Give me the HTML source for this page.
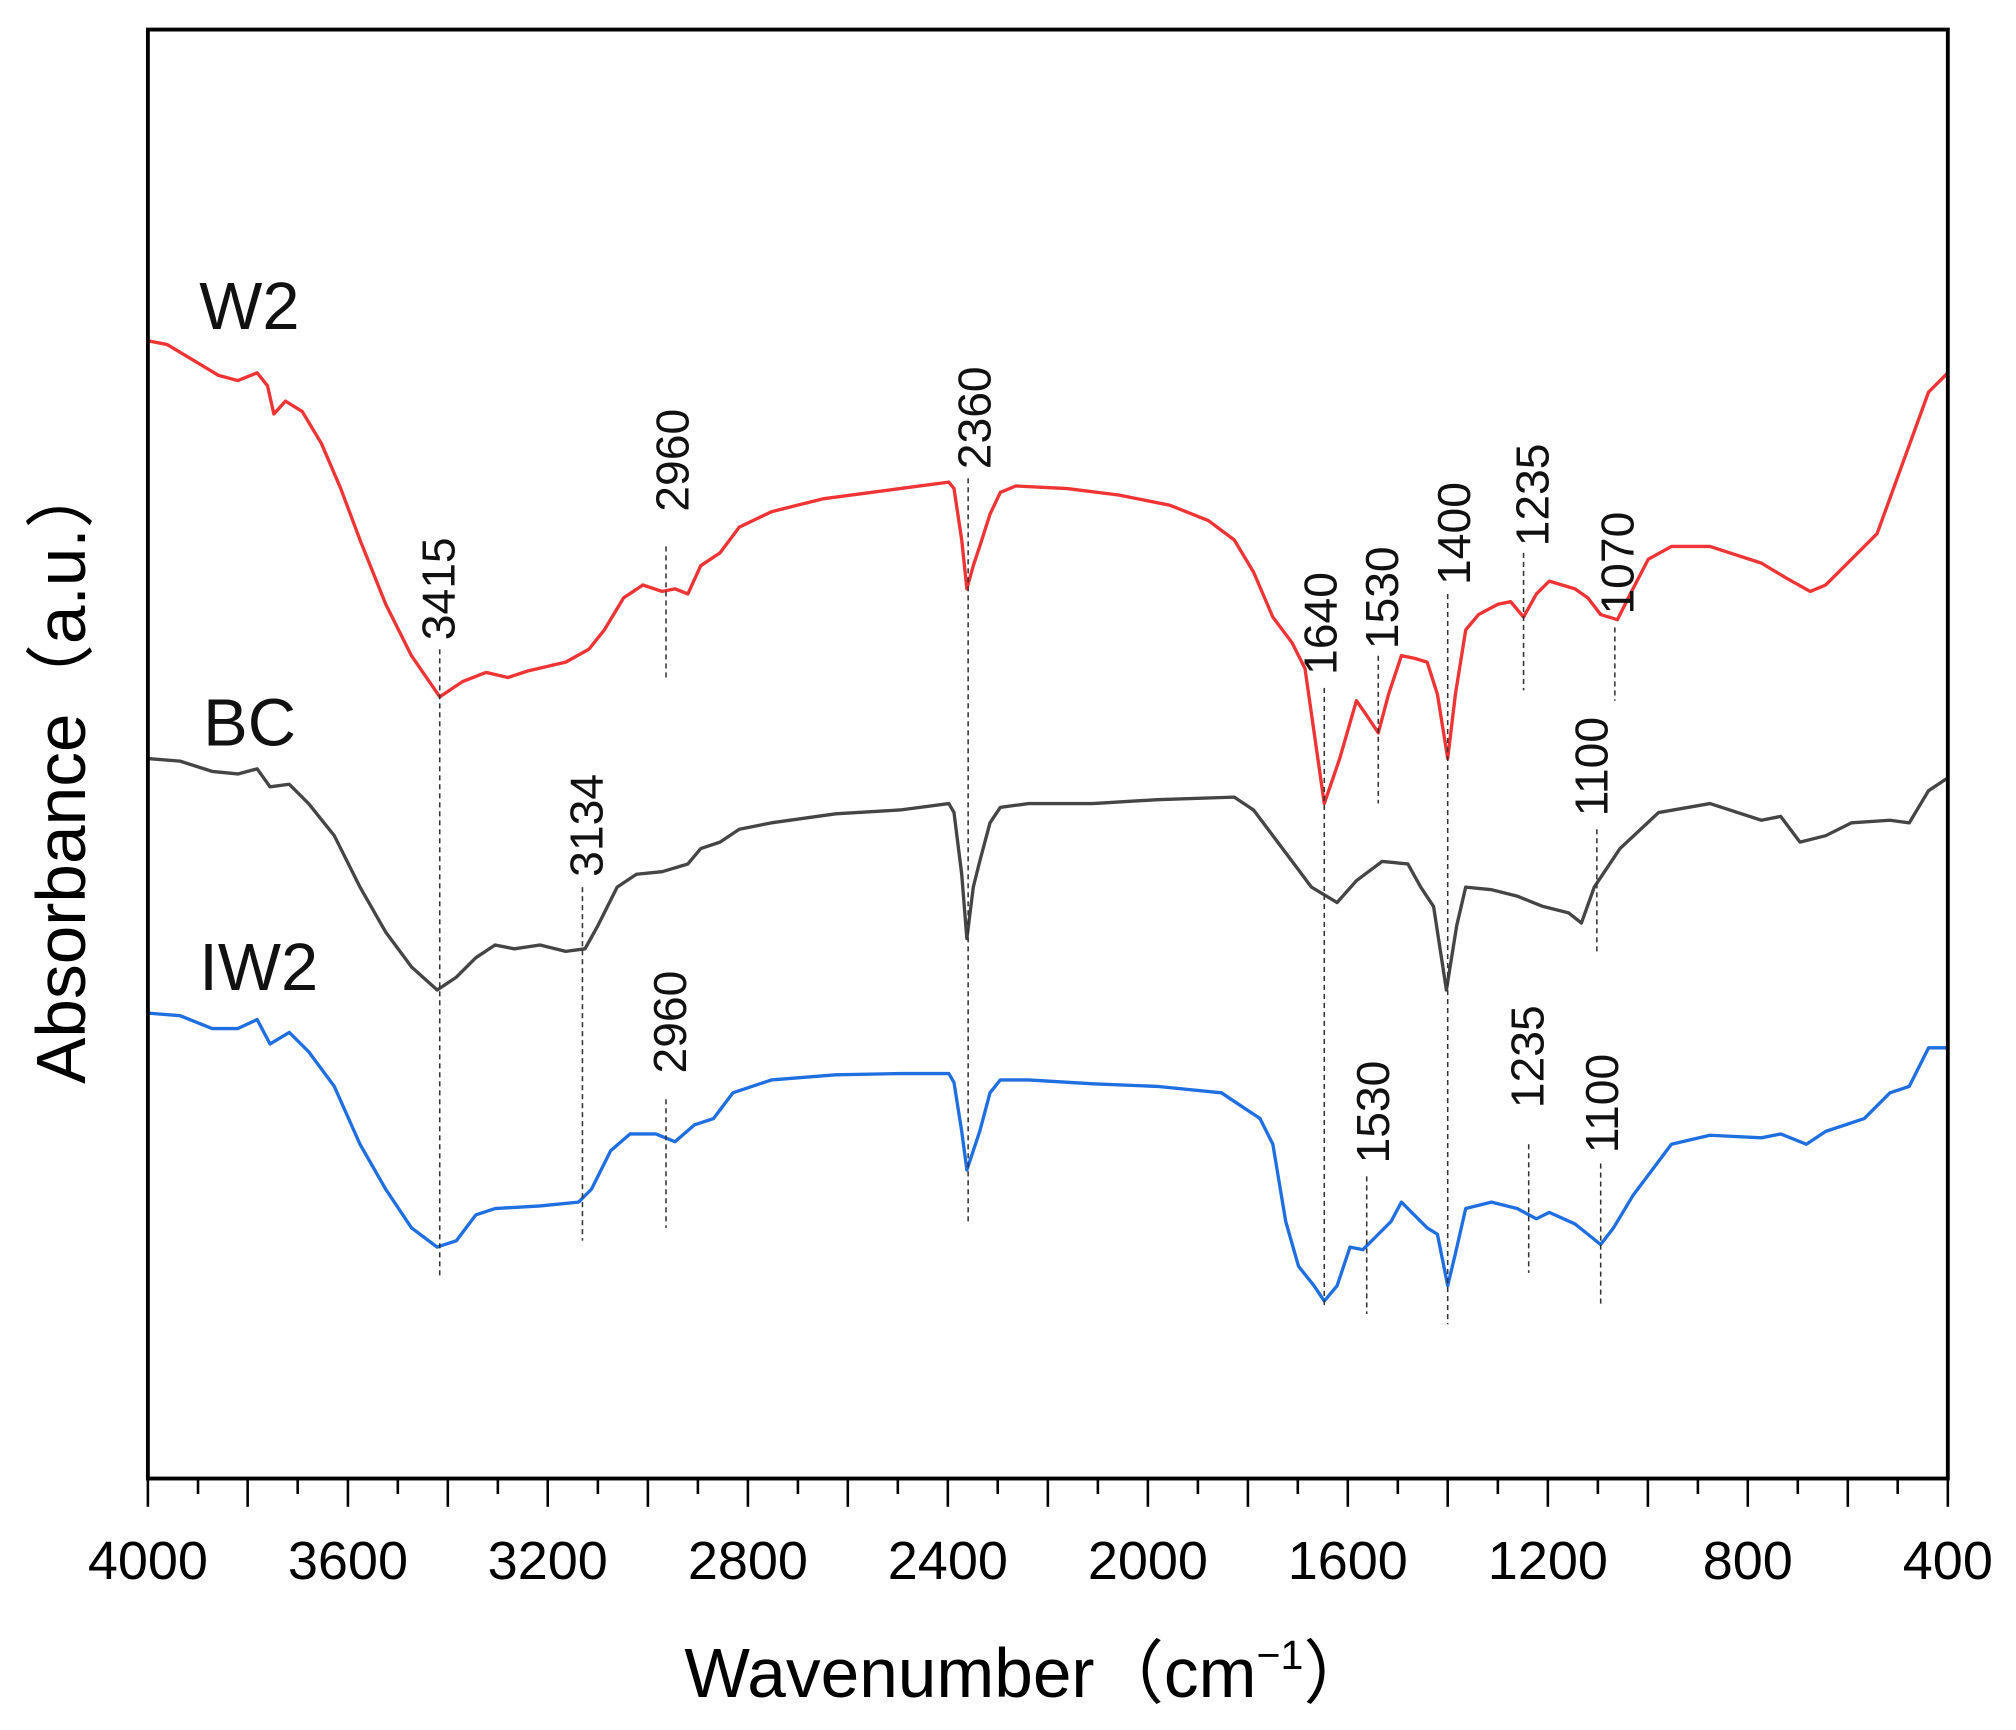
<!DOCTYPE html>
<html><head><meta charset="utf-8"><style>html,body{margin:0;padding:0;background:#fff}svg{display:block}</style></head>
<body>
<svg width="2016" height="1730" viewBox="0 0 1568 1345.6" xmlns="http://www.w3.org/2000/svg" font-family="Liberation Sans, Noto Sans CJK SC, sans-serif">
<rect width="1568" height="1346" fill="#fff"/>
<g fill="none" stroke-linejoin="round" stroke-width="2.6">
<polyline stroke="#ee3434" points="115,265 130,268 150,280 170,292 185,296 200,290 208,300 213,322 222,312 235,320 250,345 265,380 280,420 300,470 320,510 342,542 360,530 378,523 395,527 410,522 440,515 458,505 470,490 485,465 500,455 515,460 525,458 535,462 545,440 560,430 575,410 600,398 640,388 700,380 738,375 742,380 748,420 752,458 757,440 762,425 770,400 778,383 790,378 830,380 870,385 910,393 940,405 960,420 975,445 990,480 1005,500 1015,520 1030,625 1042,590 1055,545 1062,555 1072,570 1080,540 1090,510 1100,512 1110,515 1118,540 1126,590 1132,540 1140,490 1150,478 1165,470 1175,468 1185,480 1195,462 1205,452 1225,458 1235,465 1245,478 1258,482 1268,462 1282,435 1300,425 1330,425 1370,438 1390,450 1408,460 1420,455 1440,435 1460,415 1480,360 1500,305 1515,290"/>
<polyline stroke="#454545" points="115,590 140,592 165,600 185,602 200,598 210,612 225,610 240,625 260,650 280,690 300,725 320,752 340,770 355,760 370,745 385,735 400,738 420,735 440,740 455,738 465,720 480,690 495,680 515,678 535,672 545,660 560,655 575,645 600,640 650,633 700,630 738,625 742,632 748,680 752,730 757,690 762,670 770,640 778,628 800,625 850,625 900,622 960,620 975,630 990,650 1005,670 1020,690 1040,702 1055,685 1075,670 1095,672 1105,690 1115,705 1125,770 1133,720 1140,690 1160,692 1180,697 1200,705 1220,710 1230,718 1240,690 1260,660 1290,632 1330,625 1370,638 1385,635 1400,655 1420,650 1440,640 1470,638 1485,640 1500,615 1515,605"/>
<polyline stroke="#1f6fe0" points="115,788 140,790 165,800 185,800 200,793 210,812 225,803 240,818 260,845 280,890 300,925 320,955 340,970 355,965 370,945 385,940 420,938 450,935 460,925 475,895 490,882 510,882 525,888 540,875 555,870 570,850 600,840 650,836 700,835 738,835 742,842 748,880 752,910 757,895 762,880 770,850 778,840 800,840 850,843 900,845 950,850 965,860 980,870 990,890 1000,950 1010,985 1022,1000 1030,1012 1040,1000 1050,970 1060,972 1072,960 1082,950 1090,935 1100,945 1110,955 1118,960 1126,1000 1132,975 1140,940 1160,935 1180,940 1195,948 1205,943 1225,952 1235,960 1245,968 1255,955 1270,930 1300,890 1330,883 1370,885 1385,882 1405,890 1420,880 1450,870 1470,850 1485,845 1500,815 1515,815"/>
</g>
<g stroke="#333" stroke-width="1.2" stroke-dasharray="4,3">
<line x1="342" y1="505" x2="342" y2="995"/><line x1="518" y1="425" x2="518" y2="528"/>
<line x1="753" y1="372" x2="753" y2="950"/><line x1="1030" y1="535" x2="1030" y2="1015"/>
<line x1="1072" y1="510" x2="1072" y2="625"/><line x1="1126" y1="462" x2="1126" y2="1030"/>
<line x1="1185" y1="430" x2="1185" y2="537"/><line x1="1256" y1="488" x2="1256" y2="545"/>
<line x1="453" y1="690" x2="453" y2="965"/><line x1="1242" y1="645" x2="1242" y2="740"/>
<line x1="518" y1="855" x2="518" y2="955"/><line x1="1063" y1="915" x2="1063" y2="1022"/>
<line x1="1189" y1="890" x2="1189" y2="990"/><line x1="1245" y1="905" x2="1245" y2="1015"/>
</g>
<g font-size="36" fill="#111" dominant-baseline="central">
<text transform="translate(341,498) rotate(-90)">3415</text>
<text transform="translate(523,398) rotate(-90)">2960</text>
<text transform="translate(758,365) rotate(-90)">2360</text>
<text transform="translate(1027,525) rotate(-90)">1640</text>
<text transform="translate(1075,505) rotate(-90)">1530</text>
<text transform="translate(1131,455) rotate(-90)">1400</text>
<text transform="translate(1192,425) rotate(-90)">1235</text>
<text transform="translate(1258,478) rotate(-90)">1070</text>
<text transform="translate(456,682) rotate(-90)">3134</text>
<text transform="translate(1238,635) rotate(-90)">1100</text>
<text transform="translate(521,835) rotate(-90)">2960</text>
<text transform="translate(1068,905) rotate(-90)">1530</text>
<text transform="translate(1188,862) rotate(-90)">1235</text>
<text transform="translate(1246,897) rotate(-90)">1100</text>
</g>
<g font-size="52" fill="#111">
<text x="155" y="256">W2</text><text x="158" y="580">BC</text><text x="155" y="770">IW2</text>
</g>
<rect x="115" y="23" width="1400" height="1127" fill="none" stroke="#000" stroke-width="3"/>
<g stroke="#000" stroke-width="2">
<line x1="115" y1="1150" x2="115" y2="1172"/><line x1="154" y1="1150" x2="154" y2="1162"/>
<line x1="192.6" y1="1150" x2="192.6" y2="1172"/><line x1="231.5" y1="1150" x2="231.5" y2="1162"/>
<line x1="270.6" y1="1150" x2="270.6" y2="1172"/><line x1="309.4" y1="1150" x2="309.4" y2="1162"/>
<line x1="348.3" y1="1150" x2="348.3" y2="1172"/><line x1="387.2" y1="1150" x2="387.2" y2="1162"/>
<line x1="426" y1="1150" x2="426" y2="1172"/><line x1="465" y1="1150" x2="465" y2="1162"/>
<line x1="503.9" y1="1150" x2="503.9" y2="1172"/><line x1="542.8" y1="1150" x2="542.8" y2="1162"/>
<line x1="581.7" y1="1150" x2="581.7" y2="1172"/><line x1="620.6" y1="1150" x2="620.6" y2="1162"/>
<line x1="659.4" y1="1150" x2="659.4" y2="1172"/><line x1="698.3" y1="1150" x2="698.3" y2="1162"/>
<line x1="737.2" y1="1150" x2="737.2" y2="1172"/><line x1="776" y1="1150" x2="776" y2="1162"/>
<line x1="815" y1="1150" x2="815" y2="1172"/><line x1="853.9" y1="1150" x2="853.9" y2="1162"/>
<line x1="892.8" y1="1150" x2="892.8" y2="1172"/><line x1="931.7" y1="1150" x2="931.7" y2="1162"/>
<line x1="970.6" y1="1150" x2="970.6" y2="1172"/><line x1="1009.4" y1="1150" x2="1009.4" y2="1162"/>
<line x1="1048.3" y1="1150" x2="1048.3" y2="1172"/><line x1="1087.2" y1="1150" x2="1087.2" y2="1162"/>
<line x1="1126" y1="1150" x2="1126" y2="1172"/><line x1="1165" y1="1150" x2="1165" y2="1162"/>
<line x1="1203.9" y1="1150" x2="1203.9" y2="1172"/><line x1="1242.8" y1="1150" x2="1242.8" y2="1162"/>
<line x1="1281.7" y1="1150" x2="1281.7" y2="1172"/><line x1="1320.6" y1="1150" x2="1320.6" y2="1162"/>
<line x1="1359.4" y1="1150" x2="1359.4" y2="1172"/><line x1="1398.3" y1="1150" x2="1398.3" y2="1162"/>
<line x1="1437.2" y1="1150" x2="1437.2" y2="1172"/><line x1="1476" y1="1150" x2="1476" y2="1162"/>
<line x1="1515" y1="1150" x2="1515" y2="1172"/>
</g>
<g font-size="42" fill="#000" text-anchor="middle">
<text x="115" y="1228">4000</text><text x="270.6" y="1228">3600</text><text x="426" y="1228">3200</text>
<text x="581.7" y="1228">2800</text><text x="737.2" y="1228">2400</text><text x="892.8" y="1228">2000</text>
<text x="1048.3" y="1228">1600</text><text x="1203.9" y="1228">1200</text><text x="1359.4" y="1228">800</text>
<text x="1515" y="1228">400</text>
</g>
<text x="800" y="1320" font-size="54" text-anchor="middle" fill="#000">Wavenumber（cm<tspan font-size="32" dy="-22">−1</tspan><tspan dy="22">）</tspan></text>
<text transform="translate(66,600) rotate(-90)" font-size="54" text-anchor="middle" fill="#000">Absorbance（a.u.）</text>
</svg>
</body></html>
